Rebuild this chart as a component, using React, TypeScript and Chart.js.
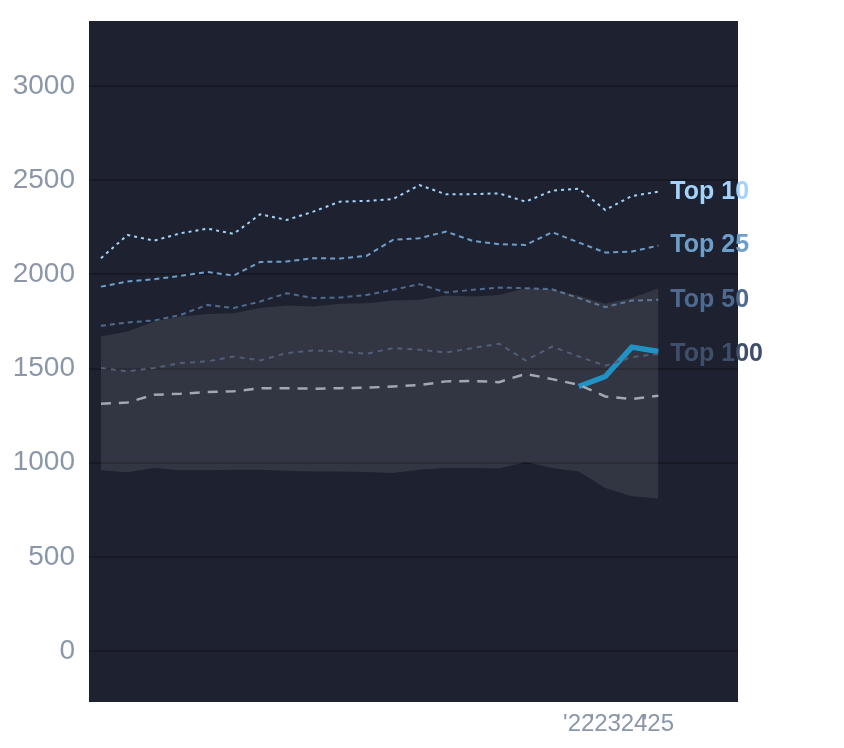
import React, { useEffect, useRef } from 'react'
import { Chart, registerables } from 'chart.js'

Chart.register(...registerables)

// years 2004..2025
const years = [
  2004, 2005, 2006, 2007, 2008, 2009, 2010, 2011, 2012, 2013, 2014,
  2015, 2016, 2017, 2018, 2019, 2020, 2021, 2022, 2023, 2024, 2025,
]
const top10 = [2086, 2209, 2179, 2218, 2243, 2215, 2319, 2289, 2333, 2386, 2390, 2400, 2474, 2425, 2426, 2430, 2386, 2444, 2455, 2342, 2416, 2439]
const top25 = [1935, 1962, 1974, 1992, 2013, 1994, 2066, 2068, 2086, 2084, 2098, 2183, 2192, 2227, 2178, 2160, 2156, 2224, 2169, 2116, 2121, 2153]
const top50 = [1727, 1745, 1755, 1785, 1838, 1821, 1856, 1900, 1874, 1877, 1891, 1918, 1948, 1904, 1918, 1930, 1927, 1921, 1874, 1826, 1861, 1865]
const top100 = [1503, 1485, 1503, 1529, 1538, 1564, 1543, 1582, 1596, 1591, 1578, 1609, 1600, 1585, 1609, 1632, 1543, 1617, 1564, 1515, 1561, 1578]
const median = [1313, 1320, 1361, 1366, 1375, 1379, 1395, 1396, 1393, 1396, 1398, 1405, 1412, 1432, 1434, 1428, 1472, 1444, 1414, 1352, 1338, 1356]
const bandHigh = [1670, 1697, 1750, 1776, 1789, 1794, 1821, 1835, 1829, 1844, 1847, 1861, 1865, 1888, 1882, 1890, 1927, 1921, 1886, 1844, 1874, 1927]
const bandLow = [960, 949, 972, 960, 960, 963, 963, 958, 954, 954, 951, 946, 963, 972, 972, 969, 1004, 972, 954, 866, 822, 810]
const currentYears = [2022, 2023, 2024, 2025]
const current = [1405, 1458, 1614, 1591]

const yTicks = [0, 500, 1000, 1500, 2000, 2500, 3000]
const xTicks = [2022, 2023, 2024, 2025]
const xTickLabels = ["'22", "'23", "'24", "'25"]

const FONT = "'Liberation Sans', Arial, sans-serif"
const TICK_COLOR = '#8b96a8'

const toPoints = (xs: number[], ys: number[]) => xs.map((x, i) => ({ x, y: ys[i] }))

const tiers = [
  { label: 'Top 10', data: top10, color: '#a3d3fb', dash: [3, 4] },
  { label: 'Top 25', data: top25, color: '#6e9fcc', dash: [5, 4] },
  { label: 'Top 50', data: top50, color: '#4f6a8f', dash: [5, 4] },
  { label: 'Top 100', data: top100, color: '#3f4e6b', dash: [5, 5] },
]

// dark panel behind the plot area
const panelPlugin = {
  id: 'panel',
  beforeDraw(chart: any) {
    const { ctx, chartArea } = chart
    ctx.save()
    ctx.fillStyle = '#1e2230'
    ctx.fillRect(chartArea.left, chartArea.top, chartArea.right - chartArea.left, chartArea.bottom - chartArea.top)
    ctx.restore()
  },
}

// "Top N" labels at the end of each tier line
const endLabelPlugin = {
  id: 'endLabels',
  afterDatasetsDraw(chart: any) {
    const { ctx, scales } = chart
    ctx.save()
    ctx.font = `bold 25px ${FONT}`
    ctx.textAlign = 'left'
    ctx.textBaseline = 'middle'
    tiers.forEach((t) => {
      const last = t.data[t.data.length - 1]
      ctx.fillStyle = t.color
      ctx.fillText(t.label, scales.x.getPixelForValue(years[years.length - 1]) + 12, scales.y.getPixelForValue(last))
    })
    ctx.restore()
  },
}

const App = () => {
  const chartRef = useRef<HTMLCanvasElement>(null)

  useEffect(() => {
    if (!chartRef.current) return

    const chart = new Chart(chartRef.current, {
      type: 'line',
      data: {
        datasets: [
          {
            label: 'band low',
            data: toPoints(years, bandLow),
            borderWidth: 0,
            borderColor: 'transparent',
            pointRadius: 0,
            fill: false,
          },
          {
            label: 'band high',
            data: toPoints(years, bandHigh),
            borderWidth: 0,
            borderColor: 'transparent',
            backgroundColor: 'rgba(255, 255, 255, 0.09)',
            pointRadius: 0,
            fill: '-1',
          },
          ...tiers.map((t) => ({
            label: t.label,
            data: toPoints(years, t.data),
            borderColor: t.color,
            borderWidth: 2,
            borderDash: t.dash,
            pointRadius: 0,
            fill: false,
          })),
          {
            label: 'median',
            data: toPoints(years, median),
            borderColor: '#9a9fab',
            borderWidth: 2.5,
            borderDash: [10, 8],
            pointRadius: 0,
            fill: false,
          },
          {
            label: 'current',
            data: toPoints(currentYears, current),
            borderColor: '#0d87bf',
            borderWidth: 5.5,
            pointRadius: 0,
            fill: false,
          },
        ],
      },
      options: {
        animation: false,
        responsive: true,
        maintainAspectRatio: false,
        layout: { padding: { top: 21, right: 106, left: 0, bottom: 0 } },
        plugins: {
          legend: { display: false },
          tooltip: { enabled: false },
        },
        scales: {
          x: {
            type: 'linear',
            min: 2003.55,
            max: 2028,
            border: { display: false },
            grid: { display: false, drawTicks: false },
            afterBuildTicks: (scale: any) => {
              scale.ticks = xTicks.map((v) => ({ value: v }))
            },
            afterFit: (scale: any) => {
              scale.height = 46
              scale.paddingLeft = 0
              scale.paddingRight = 0
            },
            ticks: {
              autoSkip: false,
              maxRotation: 0,
              padding: 8,
              color: TICK_COLOR,
              font: { size: 24, family: FONT },
              callback: (v: any) => xTickLabels[xTicks.indexOf(Number(v))] ?? '',
            },
          },
          y: {
            min: -270,
            max: 3345,
            border: { display: false },
            grid: { color: '#161923', lineWidth: 2, drawTicks: false },
            afterBuildTicks: (scale: any) => {
              scale.ticks = yTicks.map((v) => ({ value: v }))
            },
            afterFit: (scale: any) => {
              scale.width = 89
              scale.paddingTop = 0
              scale.paddingBottom = 0
            },
            ticks: {
              padding: 14,
              color: TICK_COLOR,
              font: { size: 28, family: FONT },
              callback: (v: any) => String(v),
            },
          },
        },
      },
      plugins: [panelPlugin, endLabelPlugin],
    })

    return () => {
      chart.destroy()
    }
  }, [])

  return (
    <div style={{ position: 'absolute', left: 0, top: 0, width: 844, height: 748, background: '#fff' }}>
      <canvas ref={chartRef}></canvas>
    </div>
  )
}

export default App
